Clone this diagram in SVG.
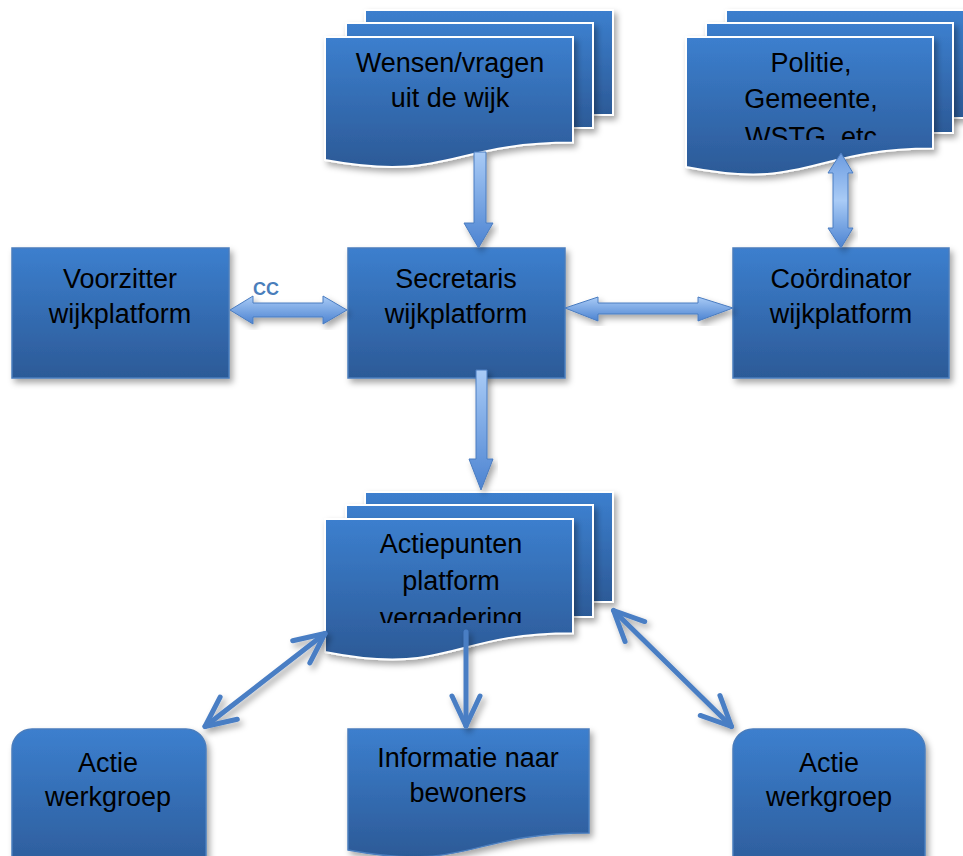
<svg xmlns="http://www.w3.org/2000/svg" width="963" height="856" viewBox="0 0 963 856">
<style>
  .lbl { font-family: "Liberation Sans", Arial, sans-serif; font-size: 27px; fill: #000; text-anchor: middle; }
  .box { fill: url(#boxGrad); stroke: #4a7dbd; stroke-width: 1.5; filter: url(#shadow); }
  .page { fill: url(#boxGrad); stroke: #ffffff; stroke-width: 2; filter: url(#shadow); }
  .blk { stroke: #4a7cc0; stroke-width: 1; filter: url(#shadow); }
  .ln { stroke: #4a7ec4; stroke-width: 5; fill: none; stroke-linecap: round; filter: url(#lnShadow); marker-end: url(#vhead); }
  .dbl { marker-start: url(#vhead); }
  .cc { font-family: "Liberation Sans", Arial, sans-serif; font-size: 18px; font-weight: bold; fill: #4a7ebb; }
</style>
<defs>
  <linearGradient id="boxGrad" x1="0" y1="0" x2="0" y2="1">
    <stop offset="0" stop-color="#3c7fce"/>
    <stop offset="1" stop-color="#2c5a97"/>
  </linearGradient>
  <linearGradient id="arrV" x1="0" y1="0" x2="0" y2="1">
    <stop offset="0" stop-color="#a9cbf6"/>
    <stop offset="1" stop-color="#4c83d1"/>
  </linearGradient>
  <linearGradient id="arrH" x1="0" y1="0" x2="0" y2="1">
    <stop offset="0" stop-color="#a9cbf6"/>
    <stop offset="1" stop-color="#4c83d1"/>
  </linearGradient>
  <linearGradient id="arrVV" x1="0" y1="0" x2="0" y2="1">
    <stop offset="0" stop-color="#6b9be0"/>
    <stop offset="0.5" stop-color="#a9cbf6"/>
    <stop offset="1" stop-color="#4c83d1"/>
  </linearGradient>
  <filter id="shadow" x="-20%" y="-20%" width="140%" height="140%">
    <feDropShadow dx="3" dy="4" stdDeviation="3" flood-color="#000" flood-opacity="0.35"/>
  </filter>
  <filter id="lnShadow" filterUnits="userSpaceOnUse" x="0" y="0" width="963" height="856">
    <feDropShadow dx="3" dy="4" stdDeviation="3" flood-color="#000" flood-opacity="0.35"/>
  </filter>
  <marker id="vhead" markerUnits="userSpaceOnUse" viewBox="-34 -20 40 40" refX="0" refY="0" markerWidth="40" markerHeight="40" orient="auto-start-reverse">
    <path d="M-30,-14 L0,0 L-30,14" fill="none" stroke="#4a7ec4" stroke-width="5" stroke-linecap="round" stroke-linejoin="round"/>
  </marker>
  <clipPath id="clipPol"><rect x="686" y="37" width="247" height="103"/></clipPath>
  <clipPath id="clipAct"><rect x="325" y="519" width="248" height="104"/></clipPath>
</defs>

<g id="wensen">
  <rect class="page" x="365" y="10" width="248" height="105"/>
  <rect class="page" x="346" y="23" width="247" height="105"/>
  <path class="page" d="M325,37 H573 V142.6 C449,142.6 449,182.8 325,160 Z"/>
  <text class="lbl" x="450" y="72">Wensen/vragen</text>
  <text class="lbl" x="450" y="107">uit de wijk</text>
</g>

<g id="politie">
  <rect class="page" x="726" y="10" width="248" height="108"/>
  <rect class="page" x="706" y="23" width="247" height="110"/>
  <path class="page" d="M686,37 H933 V148.6 C809.5,148.6 809.5,191.2 686,167 Z"/>
  <g clip-path="url(#clipPol)">
    <text class="lbl" x="811" y="72">Politie,</text>
    <text class="lbl" x="811" y="108">Gemeente,</text>
    <text class="lbl" x="811" y="146">WSTG, etc</text>
  </g>
</g>

<g id="voorzitter">
  <rect class="box" x="12" y="248" width="217" height="130"/>
  <text class="lbl" x="120" y="288">Voorzitter</text>
  <text class="lbl" x="120" y="323">wijkplatform</text>
</g>

<g id="secretaris">
  <rect class="box" x="348" y="248" width="217" height="130"/>
  <text class="lbl" x="456" y="288">Secretaris</text>
  <text class="lbl" x="456" y="323">wijkplatform</text>
</g>

<g id="coordinator">
  <rect class="box" x="733" y="248" width="216" height="130"/>
  <text class="lbl" x="841" y="288">Coördinator</text>
  <text class="lbl" x="841" y="323">wijkplatform</text>
</g>

<g id="actiepunten">
  <rect class="page" x="365" y="492" width="248" height="110"/>
  <rect class="page" x="346" y="505" width="247" height="112"/>
  <path class="page" d="M325,519 H573 V633.2 C449,633.2 449,676.7 325,652 Z"/>
  <g clip-path="url(#clipAct)">
    <text class="lbl" x="451" y="553">Actiepunten</text>
    <text class="lbl" x="451" y="590">platform</text>
    <text class="lbl" x="451" y="627">vergadering</text>
  </g>
</g>

<g id="werkgroep1">
  <rect class="box" x="12" y="729" width="194" height="150" rx="20"/>
  <text class="lbl" x="108" y="772">Actie</text>
  <text class="lbl" x="108" y="806">werkgroep</text>
</g>

<g id="informatie">
  <path class="box" d="M348,729 H589 V833 C468.5,833 468.5,872.6 348,850 Z"/>
  <text class="lbl" x="468" y="767">Informatie naar</text>
  <text class="lbl" x="468" y="802">bewoners</text>
</g>

<g id="werkgroep2">
  <rect class="box" x="733" y="729" width="192" height="150" rx="20"/>
  <text class="lbl" x="829" y="772">Actie</text>
  <text class="lbl" x="829" y="806">werkgroep</text>
</g>

<g id="connectors">
  <polygon class="blk" fill="url(#arrV)" points="474,152 486,152 486,223 493,223 478.5,248 464,223 474,223"/>
  <polygon class="blk" fill="url(#arrV)" points="476,370 487,370 487,459 493,459 481,490 469,459 476,459"/>
  <polygon class="blk" fill="url(#arrH)" points="230,310 253,296 253,303 323,303 323,296 347,310 323,324 323,317 253,317 253,324"/>
  <polygon class="blk" fill="url(#arrH)" points="565,308 598,297 598,303 698,303 698,297 733,308 698,321 698,314 598,314 598,321"/>
  <polygon class="blk" fill="url(#arrVV)" points="841,153 853,173 848,173 848,228 853,228 841,248 828,228 833,228 833,173 828,173"/>
  <text class="cc" x="253" y="295">CC</text>
  <line class="ln dbl" x1="325" y1="633.5" x2="205" y2="726.5"/>
  <line class="ln" x1="466" y1="632" x2="466" y2="726"/>
  <line class="ln dbl" x1="613.5" y1="610.5" x2="731.5" y2="726.5"/>
</g>
</svg>
